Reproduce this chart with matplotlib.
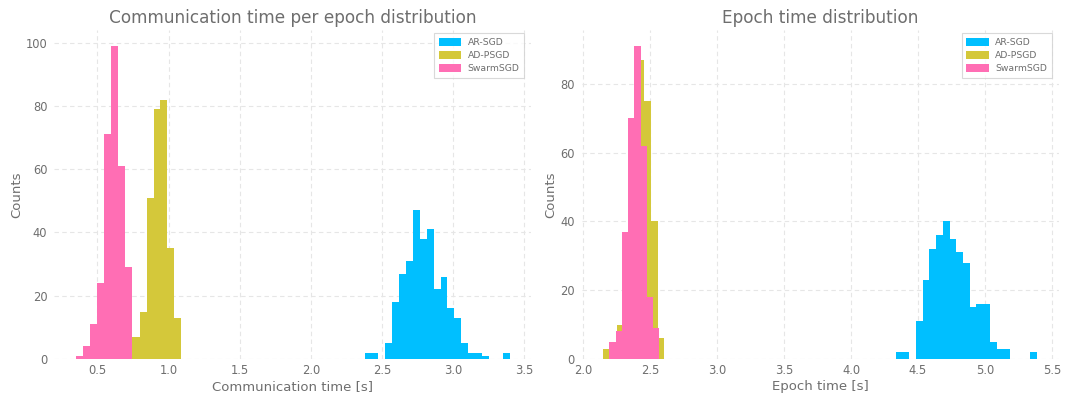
#!/usr/bin/env python3
"""
Communication / epoch time histograms for AR-SGD, AD-PSGD and SwarmSGD
"""

import numpy as np
import matplotlib
matplotlib.use("Agg")
import matplotlib.pyplot as plt

# series names and colours
series = ["AR-SGD", "AD-PSGD", "SwarmSGD"]
colors = ["#00BFFF", "#D4C83A", "#FF6EB4"]

# communication time per epoch: (first edge, last edge, counts per bin)
comm_ar_range = (2.377, 3.395)
comm_ar_counts = [2, 2, 0, 5, 18, 27, 31, 47, 38, 41, 22, 26, 16, 13, 5, 2, 2, 1, 0, 0, 2]
comm_ad_range = (0.515, 1.085)
comm_ad_counts = [0, 1, 3, 7, 7, 7, 15, 51, 79, 82, 35, 13]
comm_sw_range = (0.349, 0.742)
comm_sw_counts = [1, 4, 11, 24, 71, 99, 61, 29]

# epoch time
epoch_ar_range = (4.334, 5.388)
epoch_ar_counts = [2, 2, 0, 11, 23, 32, 36, 40, 35, 31, 28, 15, 16, 16, 5, 3, 3, 0, 0, 0, 2]
epoch_ad_range = (2.150, 2.606)
epoch_ad_counts = [3, 3, 10, 22, 54, 87, 75, 40, 6]
epoch_sw_range = (2.194, 2.568)
epoch_sw_counts = [5, 8, 37, 70, 91, 62, 18, 9]

TEXT = "#6e6e6e"


def draw_hist(ax, ranges, counts, title, xlabel, yticks):
    for name, col, rng, cnt in zip(series, colors, ranges, counts):
        edges = np.linspace(rng[0], rng[1], len(cnt) + 1)
        ax.hist(edges[:-1], bins=edges, weights=cnt, color=col, label=name)
    ax.set_title(title, fontsize=12.2, color=TEXT, pad=5)
    ax.set_xlabel(xlabel, fontsize=9.5, color=TEXT, labelpad=2)
    ax.set_ylabel("Counts", fontsize=9.5, color=TEXT, labelpad=2)
    ax.set_yticks(yticks)
    ax.tick_params(length=0, labelsize=8.3, labelcolor=TEXT)
    ax.tick_params(axis="x", pad=3.5)
    ax.tick_params(axis="y", pad=5)
    for s in ax.spines.values():
        s.set_visible(False)
    ax.grid(True, linestyle=(0, (4, 3)), color="#e6e6e6", linewidth=0.8)
    ax.set_axisbelow(True)
    leg = ax.legend(loc="upper right", fontsize=6.7, frameon=True, fancybox=False,
                    handlelength=2.4, handleheight=0.9, borderpad=0.5,
                    labelspacing=0.42, handletextpad=0.7,
                    bbox_to_anchor=(0.995, 1.005))
    leg.get_frame().set_edgecolor("#d0d0d0")
    leg.get_frame().set_linewidth(0.8)
    for t in leg.get_texts():
        t.set_color(TEXT)


fig, (ax1, ax2) = plt.subplots(1, 2, figsize=(10.65, 3.94), dpi=100)
fig.subplots_adjust(left=0.051, right=0.994, bottom=0.089, top=0.923, wspace=0.106)

draw_hist(ax1, [comm_ar_range, comm_ad_range, comm_sw_range],
          [comm_ar_counts, comm_ad_counts, comm_sw_counts],
          "Communication time per epoch distribution", "Communication time [s]",
          [0, 20, 40, 60, 80, 100])
draw_hist(ax2, [epoch_ar_range, epoch_ad_range, epoch_sw_range],
          [epoch_ar_counts, epoch_ad_counts, epoch_sw_counts],
          "Epoch time distribution", "Epoch time [s]",
          [0, 20, 40, 60, 80])

fig.savefig("out.png", dpi=100)
